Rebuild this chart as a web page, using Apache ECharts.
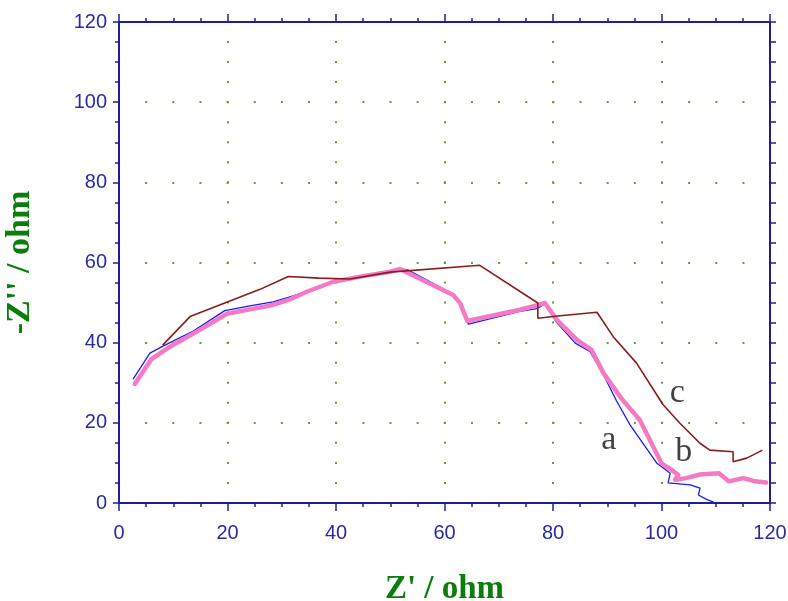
<!DOCTYPE html>
<html>
<head>
<meta charset="utf-8">
<script src="https://cdn.jsdelivr.net/npm/echarts@6/dist/echarts.min.js"></script>
<style>
  html, body { margin: 0; padding: 0; background: #ffffff; }
  #chart { width: 788px; height: 601px; }
</style>
</head>
<body>
<div id="chart"></div>
<script>
// Nyquist impedance spectra: [Z' (ohm), -Z'' (ohm)]
const curveA = [
  [2.6, 30.9], [5.7, 37.4], [8.2, 39.2], [13.7, 42.9], [19.5, 48.0], [24.1, 49.2],
  [28.4, 50.2], [31.2, 51.3], [35.0, 52.9], [39.5, 55.4], [45.0, 56.7], [50.0, 57.9],
  [51.8, 58.5], [53.3, 58.1], [61.6, 52.1], [62.9, 50.0], [64.4, 44.6], [73.9, 47.8],
  [77.0, 48.5], [78.5, 49.6], [80.7, 45.0], [84.1, 39.9], [86.8, 37.8], [89.3, 32.0],
  [91.7, 25.5], [94.2, 19.5], [99.1, 10.0], [101.6, 7.4], [101.2, 5.0], [105.3, 4.5],
  [107.1, 3.7], [106.8, 2.0], [108.3, 0.9], [109.6, 0.2]
];
const curveB = [
  [2.9, 29.7], [6.0, 35.9], [9.4, 39.0], [14.9, 43.2], [19.9, 47.2], [24.1, 48.3],
  [28.4, 49.4], [31.5, 50.8], [34.6, 52.7], [39.5, 55.2], [45.0, 56.6], [50.0, 57.7],
  [51.8, 58.4], [53.3, 57.4], [61.6, 51.9], [62.9, 49.8], [64.2, 45.4], [73.9, 48.2],
  [77.0, 49.3], [78.5, 49.9], [80.7, 45.7], [84.4, 40.7], [87.1, 38.2], [89.3, 32.4],
  [92.6, 26.1], [96.0, 20.7], [100.0, 9.9], [101.9, 8.2], [103.1, 7.0], [102.5, 5.8],
  [104.5, 6.2], [107.1, 7.1], [110.6, 7.4], [112.4, 5.4], [115.1, 6.2], [117.2, 5.4],
  [119.3, 5.1]
];
const curveC = [
  [8.05, 39.4], [13.1, 46.5], [26.0, 53.3], [31.2, 56.5], [36.9, 56.1], [42.6, 55.9],
  [50.0, 57.6], [66.5, 59.3], [77.2, 49.9], [77.2, 46.1], [81.3, 46.7], [88.1, 47.6],
  [91.1, 41.5], [95.4, 34.9], [100.3, 24.5], [103.4, 19.9], [107.1, 14.9], [108.9, 13.2],
  [113.2, 12.8], [113.2, 10.3], [115.7, 11.2], [116.9, 12.0], [118.6, 13.2]
];
// curve tags placed beside each spectrum
const curveTags = [
  { name: 'a', value: [90.3, 15.7] },
  { name: 'b', value: [104.1, 12.7] },
  { name: 'c', value: [102.9, 27.3] }
];
const axisMin = 0, axisMax = 120, axisStep = 20;

const axisColor = '#1f1f9c';
const labelColor = '#2a2aa6';
const titleColor = '#0b7d0b';
const dotColor = '#6a9a40';

const chart = echarts.init(document.getElementById('chart'), null, { renderer: 'canvas' });

function frameAxis(extra) {
  return Object.assign({
    type: 'value',
    min: axisMin,
    max: axisMax,
    interval: axisStep,
    axisLine: { show: true, onZero: false, lineStyle: { color: axisColor, width: 2 } },
    axisTick: { show: true, inside: false, length: 8, lineStyle: { color: axisColor, width: 1.5 } },
    minorTick: { show: true, splitNumber: 4, length: 4, lineStyle: { color: axisColor, width: 1.5 } },
    axisLabel: { show: false },
    splitLine: { show: false },
    minorSplitLine: { show: false }
  }, extra);
}

const option = {
  animation: false,
  backgroundColor: '#ffffff',
  grid: { left: 119, right: 18, top: 22, bottom: 98, containLabel: false, outerBoundsMode: 'none' },
  xAxis: [
    frameAxis({
      position: 'bottom',
      name: "Z' / ohm",
      nameLocation: 'middle',
      nameGap: 70,
      nameTextStyle: { fontFamily: 'Liberation Serif', fontWeight: 'bold', fontSize: 33, color: titleColor },
      axisLabel: { show: true, margin: 20, fontFamily: 'Liberation Sans', fontSize: 20, color: labelColor },
      splitLine: { show: true, lineStyle: { color: dotColor, width: 2, type: [2, 18.04], dashOffset: 1 } }
    }),
    frameAxis({ position: 'top' })
  ],
  yAxis: [
    frameAxis({
      position: 'left',
      name: "-Z'' / ohm",
      nameLocation: 'middle',
      nameRotate: 90,
      nameGap: 82,
      nameTextStyle: { fontFamily: 'Liberation Serif', fontWeight: 'bold', fontSize: 34, color: titleColor },
      axisTick: { show: true, inside: false, length: 6, lineStyle: { color: axisColor, width: 1.5 } },
      axisLabel: { show: true, margin: 12, fontFamily: 'Liberation Sans', fontSize: 20, color: labelColor },
      splitLine: { show: true, lineStyle: { color: dotColor, width: 2, type: [2, 25.15], dashOffset: 1 } }
    }),
    frameAxis({
      position: 'right',
      axisTick: { show: true, inside: false, length: 6, lineStyle: { color: axisColor, width: 1.5 } },
      minorTick: { show: true, splitNumber: 4, length: 6, lineStyle: { color: axisColor, width: 1.5 } }
    })
  ],
  series: [
    {
      name: 'a', type: 'line', data: curveA, xAxisIndex: 0, yAxisIndex: 0,
      symbol: 'none', lineStyle: { color: '#1a1aff', width: 1.3 }, z: 2
    },
    {
      name: 'b', type: 'line', data: curveB, xAxisIndex: 0, yAxisIndex: 0,
      symbol: 'none', lineStyle: { color: '#f57ac4', width: 4.5, cap: 'round', join: 'round' }, z: 3
    },
    {
      name: 'c', type: 'line', data: curveC, xAxisIndex: 0, yAxisIndex: 0,
      symbol: 'none', lineStyle: { color: '#8b1c1c', width: 1.6 }, z: 4
    },
    {
      name: 'tags', type: 'scatter', data: curveTags, xAxisIndex: 0, yAxisIndex: 0,
      symbolSize: 0, silent: true, z: 5,
      label: {
        show: true, position: 'inside', formatter: '{b}',
        fontFamily: 'Liberation Serif', fontSize: 34, color: '#111111'
      }
    }
  ]
};

chart.setOption(option);
</script>
</body>
</html>
